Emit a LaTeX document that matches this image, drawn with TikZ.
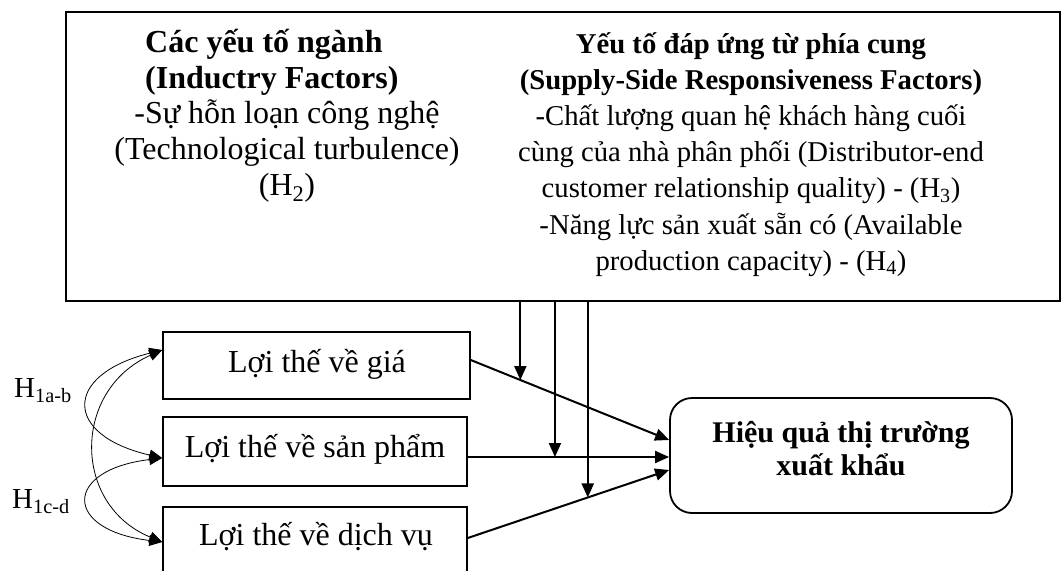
\documentclass[tikz,border=0pt]{standalone}
\usepackage{fontspec}
\setmainfont{Liberation Serif}
\usetikzlibrary{arrows.meta}

\tikzset{
  frame/.style={draw, line width=1.5pt, rectangle, inner sep=0pt},
  advbox/.style={draw, line width=1.5pt, rectangle, inner sep=0pt},
  goalbox/.style={draw, line width=1.8pt, rectangle, rounded corners=22pt, inner sep=0pt},
  txt/.style={inner sep=0pt, font=\fontsize{32}{36.2}\selectfont},
  link/.style={line width=2pt, -{Triangle[length=14pt,width=12pt]}},
  rel/.style={line width=0.8pt, {Triangle[length=13pt,width=11pt]}-{Triangle[length=13pt,width=11pt]}}
}

\begin{document}
\begin{tikzpicture}[x=1pt,y=-1pt]
\useasboundingbox (0,0) rectangle (1062,570);

% frame holding the moderating factors
\node[frame, minimum width=994pt, minimum height=289pt] (factors) at (563,156.5) {};

\node[txt, anchor=base west, font=\bfseries\fontsize{32}{36.2}\selectfont] (indhead) at (145,52)
  {\begin{tabular}[t]{@{}l@{}}Các yếu tố ngành\\(Inductry Factors)\end{tabular}};
\node[txt, anchor=base] (indbody) at (287,123)
  {\begin{tabular}[t]{@{}c@{}}-Sự hỗn loạn công nghệ\\(Technological turbulence)\\(H\textsubscript{2})\end{tabular}};

\node[txt, anchor=base, font=\fontsize{28.7}{36.2}\selectfont] (supply) at (751,53)
  {\begin{tabular}[t]{@{}c@{}}\textbf{Yếu tố đáp ứng từ phía cung}\\
   \textbf{(Supply-Side Responsiveness Factors)}\\
   -Chất lượng quan hệ khách hàng cuối\\
   cùng của nhà phân phối (Distributor-end\\
   customer relationship quality) - (H\textsubscript{3})\\
   -Năng lực sản xuất sẵn có (Available\\
   production capacity) - (H\textsubscript{4})\end{tabular}};

% competitive advantage boxes
\node[advbox, minimum width=307pt, minimum height=67pt] (b1) at (316.5,365.5) {};
\node[advbox, minimum width=304pt, minimum height=69pt] (b2) at (315,451.5) {};
\node[advbox, minimum width=304pt, minimum height=73pt] (b3) at (315,543.5) {};
\node[txt, anchor=base] (t1) at (317,372) {Lợi thế về giá};
\node[txt, anchor=base] (t2) at (315,457) {Lợi thế về sản phẩm};
\node[txt, anchor=base] (t3) at (316,545) {Lợi thế về dịch vụ};

% outcome
\node[goalbox, minimum width=342pt, minimum height=115pt] (out) at (841,455.5) {};
\node[txt, anchor=base, font=\bfseries\fontsize{30}{33}\selectfont] (outtext) at (841,442)
  {\begin{tabular}[t]{@{}c@{}}Hiệu quả thị trường\\xuất khẩu\end{tabular}};

% hypothesis labels
\node[txt, anchor=base west, font=\fontsize{29}{34}\selectfont] (h1) at (14,397) {H\textsubscript{1a-b}};
\node[txt, anchor=base west, font=\fontsize{29}{34}\selectfont] (h2) at (12,508) {H\textsubscript{1c-d}};

% main effects
\draw[link] ([yshift=5.5pt]b1.east) -- coordinate[pos=0.25] (m1) ([yshift=15.5pt]out.west);
\draw[link] ([yshift=-5.5pt]b2.east) -- coordinate[pos=0.433] (m2) ([yshift=-1.5pt]out.west);
\draw[link] ([yshift=5.5pt]b3.east) -- coordinate[pos=0.596] (m3) ([yshift=-14.5pt]out.west);

% moderating effects
\draw[link] (m1 |- factors.south) -- (m1);
\draw[link] (m2 |- factors.south) -- (m2);
\draw[link] (m3 |- factors.south) -- (m3);

% correlations among advantages
\draw[rel] ([yshift=15.5pt]b1.west) .. controls (63,375) and (63,435) .. ([yshift=-6.5pt]b2.west);
\draw[rel] ([yshift=-6.5pt]b2.west) .. controls (63,470) and (63,530) .. ([yshift=1.5pt]b3.west);
\draw[rel] ([yshift=15.5pt]b1.west) .. controls (72,390) and (72,505) .. ([yshift=1.5pt]b3.west);
\end{tikzpicture}
\end{document}
